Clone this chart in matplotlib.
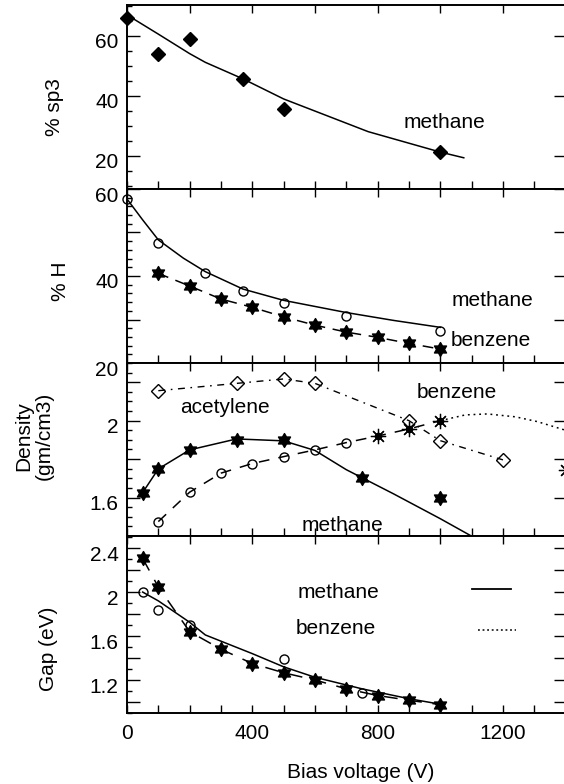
import numpy as np
import matplotlib
matplotlib.use("Agg")
import matplotlib.pyplot as plt
import matplotlib.transforms as mtransforms
from matplotlib.path import Path
from matplotlib.ticker import FixedLocator, FixedFormatter, MultipleLocator

plt.rcParams['font.family'] = ['Liberation Sans', 'DejaVu Sans']
plt.rcParams['font.size'] = 15

# ---------------- data ----------------
# panel 1 : % sp3 (methane)
sp3_v = [0, 100, 200, 370, 500, 1000]
sp3 = [65.9, 53.9, 58.9, 45.7, 35.7, 21.4]
sp3_fit_v = [0, 100, 200, 250, 370, 500, 770, 1000, 1075]
sp3_fit = [67.0, 60.6, 54.1, 51.2, 45.7, 39.0, 28.1, 21.3, 19.4]

# panel 2 : % H
hm_v = [0, 100, 250, 370, 500, 700, 1000]
hm = [57.7, 47.7, 40.6, 36.6, 33.7, 30.8, 27.4]
hm_fit_v = [0, 50, 100, 180, 250, 370, 500, 600, 700, 850, 1000]
hm_fit = [57.7, 52.9, 48.3, 44.1, 41.0, 37.0, 34.4, 33.0, 31.6, 29.8, 28.2]
hb_v = [100, 200, 300, 400, 500, 600, 700, 800, 900, 1000]
hb = [40.6, 37.7, 34.7, 32.8, 30.6, 28.7, 27.1, 25.9, 24.5, 23.2]

# panel 3 : density
ac_v = [100, 350, 500, 600, 900, 1000, 1200]
ac = [2.156, 2.194, 2.217, 2.194, 2.0, 1.896, 1.796]
dm_v = [50, 100, 200, 350, 500, 750, 1000]
dm = [1.626, 1.749, 1.848, 1.90, 1.90, 1.70, 1.60]
dm_fit_v = [50, 100, 200, 350, 500, 600, 700, 850, 1000, 1110]
dm_fit = [1.626, 1.749, 1.848, 1.905, 1.895, 1.845, 1.745, 1.62, 1.49, 1.39]
db_v = [100, 200, 300, 400, 500, 600, 700]
db = [1.475, 1.628, 1.727, 1.777, 1.813, 1.848, 1.886]
dx_v = [800, 900, 1000]
dx = [1.92, 1.957, 2.0]
ddot_v = [1000, 1080, 1150, 1240, 1310, 1400]
ddot = [2.0, 2.03, 2.035, 2.02, 1.995, 1.95]
dx2_v = [1400]
dx2 = [1.744]

# panel 4 : gap
gs_v = [50, 100, 200, 300, 400, 500, 600, 700, 800, 900, 1000]
gs = [2.306, 2.046, 1.64, 1.48, 1.35, 1.266, 1.20, 1.12, 1.059, 1.016, 0.976]
gc_v = [50, 100, 200, 500, 750]
gc = [2.0, 1.84, 1.704, 1.389, 1.083]
gc_fit_v = [50, 100, 200, 250, 400, 500, 600, 750, 900, 1000]
gc_fit = [2.0, 1.92, 1.725, 1.61, 1.44, 1.32, 1.225, 1.12, 1.03, 0.98]
leg_solid_v = [1100, 1227]
leg_solid = [2.024, 2.024]
leg_dot_v = [1121, 1243]
leg_dot = [1.657, 1.657]

xticks = [0, 200, 400, 600, 800, 1000, 1200, 1400]
xticklabels = ['0', '', '400', '', '800', '', '1200', '']

# ---------------- figure ----------------
W, H = 564, 784
fig = plt.figure(figsize=(W / 100, H / 100), dpi=100)

def px_axes(top, bottom):
    left = 127 / W
    width = 438.6 / W
    return [left, 1 - bottom / H, width, (bottom - top) / H]

ax1 = fig.add_axes(px_axes(5, 189))
ax2 = fig.add_axes(px_axes(189, 363))
ax3 = fig.add_axes(px_axes(363, 536))
ax4 = fig.add_axes(px_axes(536, 713))
axes = [ax1, ax2, ax3, ax4]

# hexagram marker
ang = np.deg2rad(90 + np.arange(12) * 30)
rad = np.where(np.arange(12) % 2 == 0, 1.0, 0.577)
verts = np.column_stack([rad * np.cos(ang), rad * np.sin(ang)])
verts = np.vstack([verts, verts[:1]])
hexa = Path(verts, [Path.MOVETO] + [Path.LINETO] * 11 + [Path.CLOSEPOLY])

lw = 1.1
# panel 1
ax1.plot(sp3_fit_v, sp3_fit, color='k', lw=lw)
ax1.plot(sp3_v, sp3, 'D', color='k', ms=7, clip_on=False, zorder=5)
ax1.text(1012, 31.1, 'methane', ha='center', va='center')

# panel 2
ax2.plot(hm_fit_v, hm_fit, color='k', lw=lw)
ax2.plot(hm_v, hm, 'o', mfc='none', mec='k', ms=6.5, mew=1.0, clip_on=False, zorder=5)
ax2.plot(hb_v, hb, color='k', lw=lw, dashes=(7, 5), marker=hexa, ms=10, mfc='k', mec='k')
ax2.text(1168, 34.4, 'methane', ha='center', va='center')
ax2.text(1162, 25.2, 'benzene', ha='center', va='center')

# panel 3
ax3.plot(ac_v, ac, color='k', lw=1.0, dashes=(5, 4, 1.2, 4), marker='D', ms=7,
         mfc='none', mec='k', mew=1.0)
ax3.plot(dm_fit_v, dm_fit, color='k', lw=lw)
ax3.plot(dm_v, dm, ls='none', marker=hexa, ms=10, mfc='k', mec='k')
ax3.plot(db_v + dx_v, db + dx, color='k', lw=lw, dashes=(7, 6))
ax3.plot(db_v, db, 'o', mfc='none', mec='k', ms=6.5, mew=1.0)
ax3.plot(ddot_v, ddot, color='k', lw=1.1, dashes=(1.2, 2.5))
ax3.plot(dx_v + dx2_v, dx + dx2, ls='none', marker=(8, 2, 0), ms=11, mec='k', mew=0.9)
ax3.plot(dx_v, dx, 'o', ms=4.5, mfc='none', mec='k', mew=1.0)
ax3.text(1054, 2.147, 'benzene', ha='center', va='center')
ax3.text(313, 2.07, 'acetylene', ha='center', va='center')
ax3.text(688, 1.456, 'methane', ha='center', va='center')

# panel 4
ax4.plot(gc_fit_v, gc_fit, color='k', lw=lw)
ax4.plot(gc_v, gc, 'o', mfc='none', mec='k', ms=6.5, mew=1.0)
ax4.plot(gs_v, gs, color='k', lw=lw, dashes=(9, 7), marker=hexa, ms=10, mfc='k', mec='k',
         clip_on=False)
ax4.plot(leg_solid_v, leg_solid, color='k', lw=1.3)
ax4.plot(leg_dot_v, leg_dot, color='k', lw=1.1, dashes=(1.2, 1.8))
ax4.text(676, 2.0, 'methane', ha='center', va='center')
ax4.text(665, 1.673, 'benzene', ha='center', va='center')

# ---------------- axes styling ----------------
ylims = [(9, 70.3), (20, 60), (1.4, 2.30), (0.9, 2.51)]
yt = [[20, 40, 60], [20, 30, 40, 50, 60], [1.4, 1.6, 1.8, 2.0, 2.2],
      [1.0, 1.2, 1.4, 1.6, 1.8, 2.0, 2.2, 2.4]]
ytl = [['20', '40', '60'], ['20', '', '40', '', '60'], ['', '1.6', '', '2', ''],
       ['', '1.2', '', '1.6', '', '2', '', '2.4']]
yminor = [5, 2, 0.05, 0.1]

off = mtransforms.ScaledTranslation(0, -0.05, fig.dpi_scale_trans)
for i, ax in enumerate(axes):
    ax.set_xlim(0, 1400)
    ax.set_ylim(*ylims[i])
    ax.xaxis.set_major_locator(FixedLocator(xticks))
    ax.xaxis.set_major_formatter(FixedFormatter(xticklabels))
    ax.xaxis.set_minor_locator(MultipleLocator(100))
    ax.yaxis.set_major_locator(FixedLocator(yt[i]))
    ax.yaxis.set_major_formatter(FixedFormatter(ytl[i]))
    ax.yaxis.set_minor_locator(MultipleLocator(yminor[i]))
    ax.tick_params(axis='both', which='both', direction='in', top=True, right=True,
                   width=1.0, labelsize=15)
    ax.tick_params(axis='x', which='both', length=6, pad=8)
    ax.tick_params(axis='x', which='minor', top=False)
    ax.tick_params(axis='y', which='major', length=9, pad=6)
    ax.tick_params(axis='y', which='minor', length=3.5, right=False)
    if i < 3:
        ax.tick_params(axis='x', labelbottom=False)
    for s in ax.spines.values():
        s.set_linewidth(1.4)
    for t in ax.yaxis.get_major_ticks():
        t.label1.set_transform(t.label1.get_transform() + off)

# axis labels
def ftext(x, y, s, **kw):
    fig.text(x / W, 1 - y / H, s, ha='center', va='center', **kw)

ftext(54, 107, '% sp3', rotation=90)
ftext(61, 281, '% H', rotation=90)
ftext(34, 436, 'Density\n(gm/cm3)', rotation=90, linespacing=1.1)
ftext(48, 649, 'Gap (eV)', rotation=90)
ftext(361, 772, 'Bias voltage (V)')

fig.savefig('out.png', dpi=100)
